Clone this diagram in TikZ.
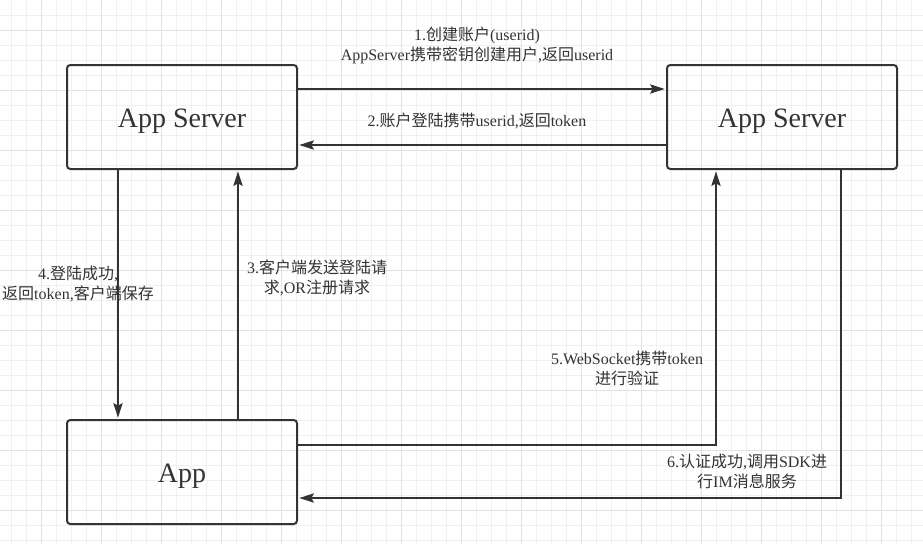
\documentclass[tikz,border=0pt]{standalone}
\usepackage{fontspec}
\setmainfont{Liberation Serif}
\newfontfamily\cjk{Noto Sans CJK SC}
\usetikzlibrary{arrows.meta}
\newcommand{\zh}[1]{{\cjk #1}}
\definecolor{ink}{HTML}{333333}
\definecolor{gridminor}{HTML}{F0F0F0}
\definecolor{gridmajor}{HTML}{E2E2E2}

\begin{document}
\begin{tikzpicture}[x=0.75pt,y=-0.75pt,
    box/.style={rectangle,draw=ink,line width=1.5pt,rounded corners=2.5pt,
        minimum width=172.5pt,minimum height=78pt,text=ink,text height=21pt,text depth=4.6pt,
        font=\fontsize{21}{25}\selectfont},
    flow/.style={draw=ink,line width=1.1pt,-{Stealth[length=11pt,width=7pt,inset=2pt]},shorten >=1pt},
    lbl/.style={align=center,text=ink,inner sep=0pt,font=\fontsize{12}{15}\selectfont}]

% background and grid
\fill[white] (0,0) rectangle (923,544);
\useasboundingbox (0,0) rectangle (923,544);
\foreach \x in {11.7,26.7,...,923} \draw[gridminor,line width=0.6pt] (\x,0) -- (\x,544);
\foreach \y in {15,30,...,544} \draw[gridminor,line width=0.6pt] (0,\y) -- (923,\y);
\foreach \x in {41.7,101.7,...,923} \draw[gridmajor,line width=0.6pt] (\x,0) -- (\x,544);
\foreach \y in {30,90,...,544} \draw[gridmajor,line width=0.6pt] (0,\y) -- (923,\y);

\node[box] (srvL) at (182,117) {App Server};
\node[box] (srvR) at (782,117) {App Server};
\node[box] (app) at (182,472) {App};

\draw[flow] ([yshift=21pt]srvL.east) -- ([yshift=21pt]srvR.west);
\draw[flow] ([yshift=-21pt]srvR.west) -- ([yshift=-21pt]srvL.east);
\draw[flow] ([xshift=42pt]app.north) -- ([xshift=42pt]srvL.south);
\draw[flow] ([xshift=-48pt]srvL.south) -- ([xshift=-48pt]app.north);
\draw[flow] ([yshift=20.25pt]app.east) -| ([xshift=-49.5pt]srvR.south);
\draw[flow] ([xshift=44.25pt]srvR.south) |- ([yshift=-19.5pt]app.east);

\node[lbl] (l1) at (477,45) {1.\zh{创建账户}(userid)\\AppServer\zh{携带密钥创建用户},\zh{返回}userid};
\node[lbl] (l2) at (477,121) {2.\zh{账户登陆携带}userid,\zh{返回}token};
\node[lbl] (l3) at (317,278) {3.\zh{客户端发送登陆请}\\\zh{求},OR\zh{注册请求}};
\node[lbl] (l4) at (78,284) {4.\zh{登陆成功},\\\zh{返回}token,\zh{客户端保存}};
\node[lbl] (l5) at (627,368) {5.WebSocket\zh{携带}token\\\zh{进行验证}};
\node[lbl] (l6) at (747,471) {6.\zh{认证成功},\zh{调用}SDK\zh{进}\\\zh{行}IM\zh{消息服务}};

\end{tikzpicture}
\end{document}
